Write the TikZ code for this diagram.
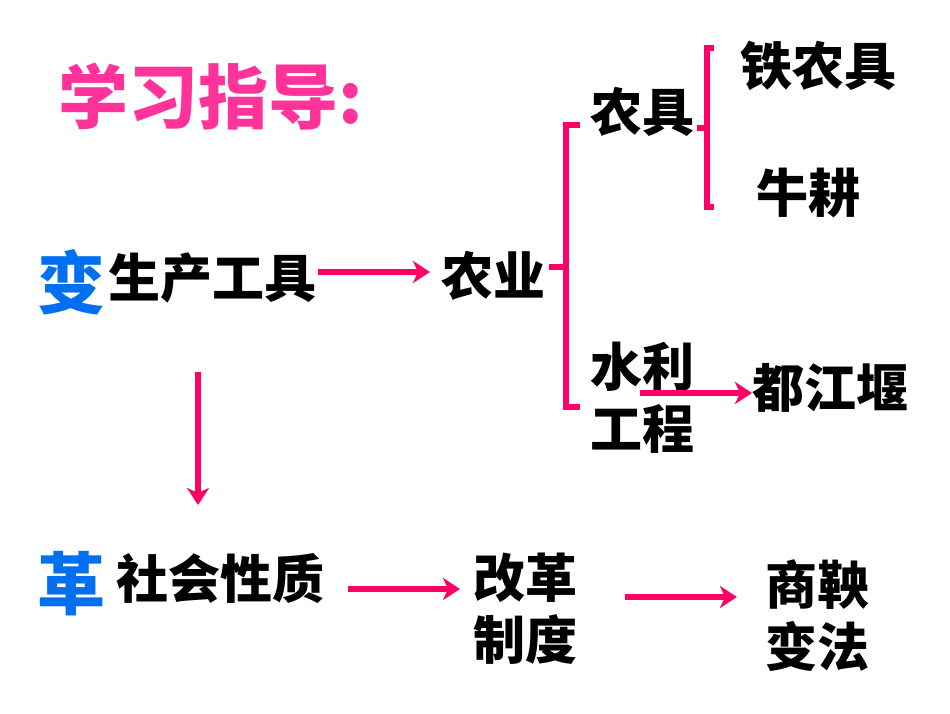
\documentclass[tikz,border=0pt]{standalone}
\usepackage{fontspec}
\newfontfamily\cjk{Noto Sans CJK SC}
\usetikzlibrary{arrows.meta}
\definecolor{pk}{HTML}{FF0066}
\definecolor{ttl}{HTML}{FF3399}
\definecolor{bl}{HTML}{0070F0}
\tikzset{
  txt/.style={inner sep=0pt, font=\cjk\bfseries\fontsize{52}{62}\selectfont, align=center},
  big/.style={inner sep=0pt, font=\cjk\bfseries\fontsize{68}{70}\selectfont, text=bl},
  arr/.style={draw=pk, line width=6pt, -{Stealth[length=17pt,width=22pt,inset=5pt]}},
  brk/.style={draw=pk, line width=5.5pt, line cap=butt}
}
\begin{document}
\begin{tikzpicture}[x=1pt,y=-1pt]
\useasboundingbox (0,0) rectangle (950,713);
\fill[white] (0,0) rectangle (950,713);
\node[inner sep=0pt, anchor=west, font=\cjk\bfseries\fontsize{70}{70}\selectfont, text=ttl] (title) at (58,97) {学习指导\textbf{:}};
\node[big] (bian) at (71,282) {变};
\node[txt, anchor=west] (scgj) at (108,278) {生产工具};
\node[txt] (ny) at (493,276) {农业};
\node[txt] (nj) at (642,112) {农具};
\node[txt] (tnj) at (818,66) {铁农具};
\node[txt] (ng) at (808,193) {牛耕};
\node[txt] (slgc) at (642,398) {水利\\工程};
\node[txt] (djy) at (830,388) {都江堰};
\node[big] (ge) at (71,584) {革};
\node[txt, anchor=west] (shxz) at (116,578) {社会性质};
\node[txt] (ggzd) at (525,609) {改革\\制度};
\node[txt] (sybf) at (817,616) {商鞅\\变法};
\coordinate (a1s) at (318,272);
\coordinate (a1e) at (430,272);
\draw[arr] (a1s) -- (a1e);
\coordinate (dvs) at (198,372);
\coordinate (dve) at (198,505);
\draw[arr] (dvs) -- (dve);
\coordinate (a2s) at (640,393);
\coordinate (a2e) at (752,393);
\draw[arr] (a2s) -- (a2e);
\coordinate (a3s) at (348,589);
\coordinate (a3e) at (460,589);
\draw[arr] (a3s) -- (a3e);
\coordinate (a4s) at (625,597);
\coordinate (a4e) at (737,597);
\draw[arr] (a4s) -- (a4e);
% big bracket
\draw[brk] (580,125) -- (566,125) -- (566,407) -- (580,407);
\draw[brk] (566,267) -- (549,267);
% small bracket
\draw[brk] (714,48) -- (707,48) -- (707,207) -- (714,207);
\draw[brk] (707,128) -- (697,128);
\end{tikzpicture}
\end{document}
